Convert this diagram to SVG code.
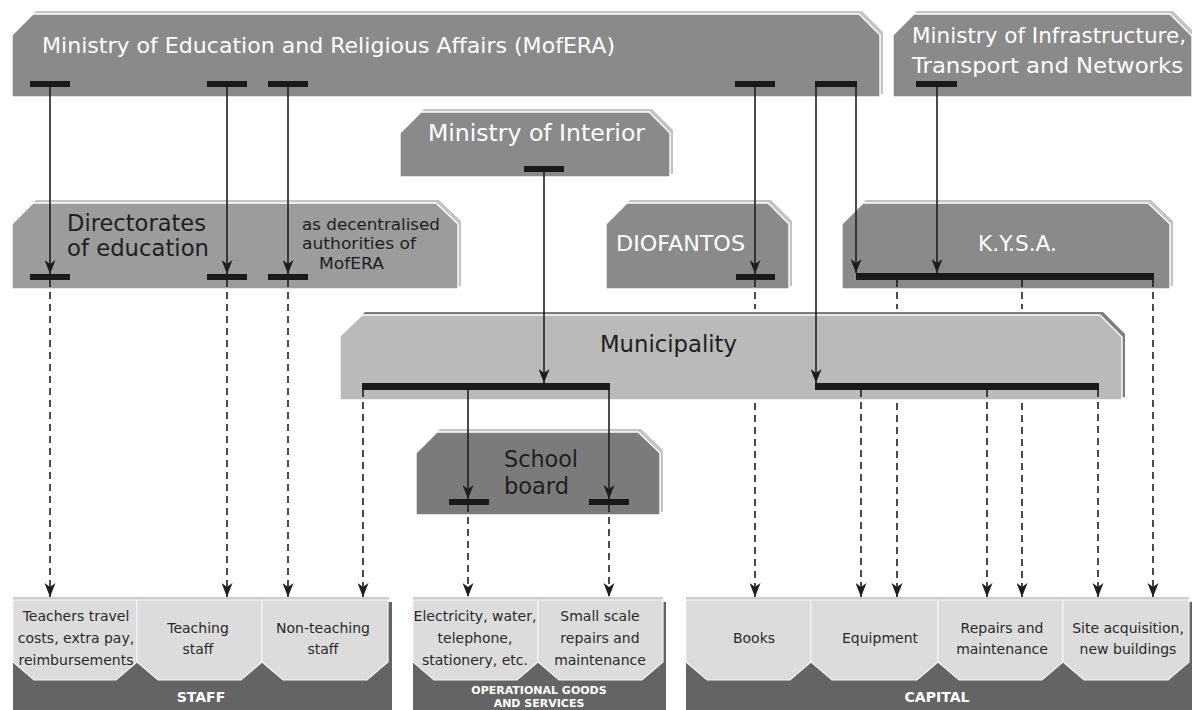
<svg xmlns="http://www.w3.org/2000/svg" width="1192" height="710" viewBox="0 0 1192 710">
<defs>
<style>
text{font-family:"DejaVu Sans","Liberation Sans",sans-serif;}
.w{fill:#ffffff;}
.d{fill:#1e1e1e;}
.s{fill:#2a2a2a;font-size:14px;text-anchor:middle;}
.lab{fill:#ffffff;font-weight:bold;text-anchor:middle;}
.bk1{fill:#c4c4c4;}
.bk2{fill:#7d7d7d;}
.f1{fill:#8a8a8a;stroke:#ffffff;stroke-width:1.4;}
.f2{fill:#9c9c9c;stroke:#ffffff;stroke-width:1.4;}
.f3{fill:#bababa;stroke:#ffffff;stroke-width:1.4;}
.f4{fill:#7b7b7b;stroke:#ffffff;stroke-width:1.4;}
.lb{fill:#dcdcdc;stroke:#f4f4f4;stroke-width:1.2;}
.base{fill:#646464;}
.hl{fill:#cdcdcd;}
.bar{fill:#1a1a1a;}
.ln{fill:none;stroke:#1e1e1e;stroke-width:1.6;marker-end:url(#ah);}
.dash{stroke-dasharray:7 5;}
</style>
<marker id="ah" markerUnits="userSpaceOnUse" viewBox="0 0 14 11" markerWidth="14" markerHeight="11" refX="14" refY="5.5" orient="auto">
<path d="M0,0 L14,5.5 L0,11 L4,5.5 Z" fill="#1e1e1e"/>
</marker>
</defs>
<rect width="1192" height="710" fill="#ffffff"/>

<g id="mofera">
<polygon class="bk1" transform="translate(3,-3)" points="12,35 33,14 859,14 880,35 880,97 12,97"/>
<polygon class="f1" points="12,35 33,14 859,14 880,35 880,97 12,97"/>
<text class="w" x="42" y="53" font-size="22" textLength="573" lengthAdjust="spacingAndGlyphs">Ministry of Education and Religious Affairs (MofERA)</text>
<rect class="bar" x="30" y="81" width="40" height="6"/>
<rect class="bar" x="207" y="81" width="40" height="6"/>
<rect class="bar" x="268" y="81" width="40" height="6"/>
<rect class="bar" x="735" y="81" width="40" height="6"/>
<rect class="bar" x="815" y="81" width="42" height="6"/>
</g>

<g id="infrastructure">
<polygon class="bk1" transform="translate(3,-3)" points="893,35 914,14 1170,14 1192,36 1192,97 893,97"/>
<polygon class="f1" points="893,35 914,14 1170,14 1192,36 1192,97 893,97"/>
<text class="w" x="912" y="43" font-size="21.5" textLength="274" lengthAdjust="spacingAndGlyphs">Ministry of Infrastructure,</text>
<text class="w" x="912" y="73" font-size="21.5" textLength="271" lengthAdjust="spacingAndGlyphs">Transport and Networks</text>
<rect class="bar" x="916" y="81" width="41" height="6"/>
</g>

<g id="interior">
<polygon class="bk1" transform="translate(3,-3)" points="400,133 421,112 649,112 670,133 670,177 400,177"/>
<polygon class="f1" points="400,133 421,112 649,112 670,133 670,177 400,177"/>
<text class="w" x="428" y="141" font-size="22.5" textLength="217" lengthAdjust="spacingAndGlyphs">Ministry of Interior</text>
<rect class="bar" x="524" y="166" width="40" height="6"/>
</g>

<g id="directorates">
<polygon class="bk1" transform="translate(3,-3)" points="12,224 33,203 436,203 458,224 458,289 12,289"/>
<polygon class="f2" points="12,224 33,203 436,203 458,224 458,289 12,289"/>
<text class="d" x="67" y="231" font-size="22.5" textLength="139" lengthAdjust="spacingAndGlyphs">Directorates</text>
<text class="d" x="67" y="256" font-size="22.5" textLength="142" lengthAdjust="spacingAndGlyphs">of education</text>
<text class="d" x="302" y="230" font-size="16.5" textLength="138" lengthAdjust="spacingAndGlyphs">as decentralised</text>
<text class="d" x="302" y="249" font-size="16.5" textLength="114" lengthAdjust="spacingAndGlyphs">authorities of</text>
<text class="d" x="319" y="269" font-size="16.5" textLength="65" lengthAdjust="spacingAndGlyphs">MofERA</text>
<rect class="bar" x="30" y="274" width="40" height="6"/>
<rect class="bar" x="207" y="274" width="40" height="6"/>
<rect class="bar" x="268" y="274" width="40" height="6"/>
</g>

<g id="diofantos">
<polygon class="bk1" transform="translate(3,-3)" points="606,224 627,203 768,203 789,224 789,289 606,289"/>
<polygon class="f1" points="606,224 627,203 768,203 789,224 789,289 606,289"/>
<text class="w" x="616" y="251" font-size="22" textLength="129" lengthAdjust="spacingAndGlyphs">DIOFANTOS</text>
<rect class="bar" x="736" y="274" width="39" height="6"/>
</g>

<g id="kysa">
<polygon class="bk1" transform="translate(3,-3)" points="842,224 863,203 1148,203 1170,224 1170,289 842,289"/>
<polygon class="f1" points="842,224 863,203 1148,203 1170,224 1170,289 842,289"/>
<text class="w" x="978" y="251" font-size="21" textLength="79" lengthAdjust="spacingAndGlyphs">K.Y.S.A.</text>
<rect class="bar" x="856" y="273" width="298" height="7"/>
</g>

<g id="municipality">
<polygon class="bk2" transform="translate(3,-3)" points="340,336 362,315 1100,315 1122,337 1122,400 340,400"/>
<polygon class="f3" points="340,336 362,315 1100,315 1122,337 1122,400 340,400"/>
<text class="d" x="600" y="352" font-size="22.5" textLength="137" lengthAdjust="spacingAndGlyphs">Municipality</text>
<rect class="bar" x="362" y="383" width="248" height="7"/>
<rect class="bar" x="815" y="383" width="284" height="7"/>
</g>

<g id="school-board">
<polygon class="bk1" transform="translate(3,-3)" points="416,453 437,432 638,432 660,453 660,515 416,515"/>
<polygon class="f4" points="416,453 437,432 638,432 660,453 660,515 416,515"/>
<text class="d" x="504" y="467" font-size="22.5" textLength="74" lengthAdjust="spacingAndGlyphs">School</text>
<text class="d" x="504" y="494" font-size="22.5" textLength="65" lengthAdjust="spacingAndGlyphs">board</text>
<rect class="bar" x="449" y="499" width="40" height="6"/>
<rect class="bar" x="589" y="499" width="40" height="6"/>
</g>

<g id="staff">
<rect class="base" x="13" y="660" width="379" height="50"/>
<rect class="base" x="387" y="602" width="5" height="108"/>
<rect class="hl" x="13" y="597" width="376" height="3"/>
<polygon class="lb" points="13,600 137,600 137,662 116,680 34,680 13,662"/>
<polygon class="lb" points="137,600 262,600 262,662 241,680 158,680 137,662"/>
<polygon class="lb" points="262,600 388,600 388,662 367,680 283,680 262,662"/>
<text class="s" x="76" y="621">Teachers travel</text>
<text class="s" x="76" y="643">costs, extra pay,</text>
<text class="s" x="76" y="665">reimbursements</text>
<text class="s" x="198" y="633">Teaching</text>
<text class="s" x="198" y="654">staff</text>
<text class="s" x="323" y="633">Non-teaching</text>
<text class="s" x="323" y="654">staff</text>
<text class="lab" x="201" y="702" font-size="14">STAFF</text>
</g>

<g id="operational">
<rect class="base" x="413" y="660" width="253" height="50"/>
<rect class="base" x="662" y="602" width="4" height="108"/>
<rect class="hl" x="413" y="597" width="250" height="3"/>
<polygon class="lb" points="413,600 538,600 538,662 517,680 434,680 413,662"/>
<polygon class="lb" points="538,600 663,600 663,662 642,680 559,680 538,662"/>
<text class="s" x="475" y="621">Electricity, water,</text>
<text class="s" x="475" y="643">telephone,</text>
<text class="s" x="475" y="665">stationery, etc.</text>
<text class="s" x="600" y="621">Small scale</text>
<text class="s" x="600" y="643">repairs and</text>
<text class="s" x="600" y="665">maintenance</text>
<text class="lab" x="539" y="694" font-size="11">OPERATIONAL GOODS</text>
<text class="lab" x="539" y="707" font-size="11">AND SERVICES</text>
</g>

<g id="capital">
<rect class="base" x="686" y="660" width="506" height="50"/>
<rect class="base" x="1188" y="602" width="4" height="108"/>
<rect class="hl" x="686" y="597" width="503" height="3"/>
<polygon class="lb" points="686,600 811,600 811,662 790,680 707,680 686,662"/>
<polygon class="lb" points="811,600 938,600 938,662 917,680 832,680 811,662"/>
<polygon class="lb" points="938,600 1063,600 1063,662 1042,680 959,680 938,662"/>
<polygon class="lb" points="1063,600 1189,600 1189,662 1168,680 1084,680 1063,662"/>
<text class="s" x="754" y="643">Books</text>
<text class="s" x="880" y="643">Equipment</text>
<text class="s" x="1002" y="633">Repairs and</text>
<text class="s" x="1002" y="654">maintenance</text>
<text class="s" x="1128" y="633">Site acquisition,</text>
<text class="s" x="1128" y="654">new buildings</text>
<text class="lab" x="937" y="702" font-size="14">CAPITAL</text>
</g>

<g id="connectors">
<path class="ln" d="M50 87 V274"/>
<path class="ln" d="M227 87 V274"/>
<path class="ln" d="M288 87 V274"/>
<path class="ln" d="M755 87 V274"/>
<path class="ln" d="M816 87 V383"/>
<path class="ln" d="M856 87 V273"/>
<path class="ln" d="M937 87 V273"/>
<path class="ln" d="M544 172 V383"/>
<path class="ln" d="M468 390 V499"/>
<path class="ln" d="M609 390 V499"/>
<path class="ln dash" d="M50 280 V597"/>
<path class="ln dash" d="M227 280 V597"/>
<path class="ln dash" d="M288 280 V597"/>
<path class="ln dash" d="M363 390 V597"/>
<path class="ln dash" d="M468 505 V597"/>
<path class="ln dash" d="M609 505 V597"/>
<path class="ln dash" d="M755 280 V309 M755 403 V597"/>
<path class="ln dash" d="M861 390 V597"/>
<path class="ln dash" d="M897 280 V309 M897 403 V597"/>
<path class="ln dash" d="M987 390 V597"/>
<path class="ln dash" d="M1022 280 V309 M1022 403 V597"/>
<path class="ln dash" d="M1098 390 V597"/>
<path class="ln dash" d="M1153 280 V597"/>
</g>
</svg>
